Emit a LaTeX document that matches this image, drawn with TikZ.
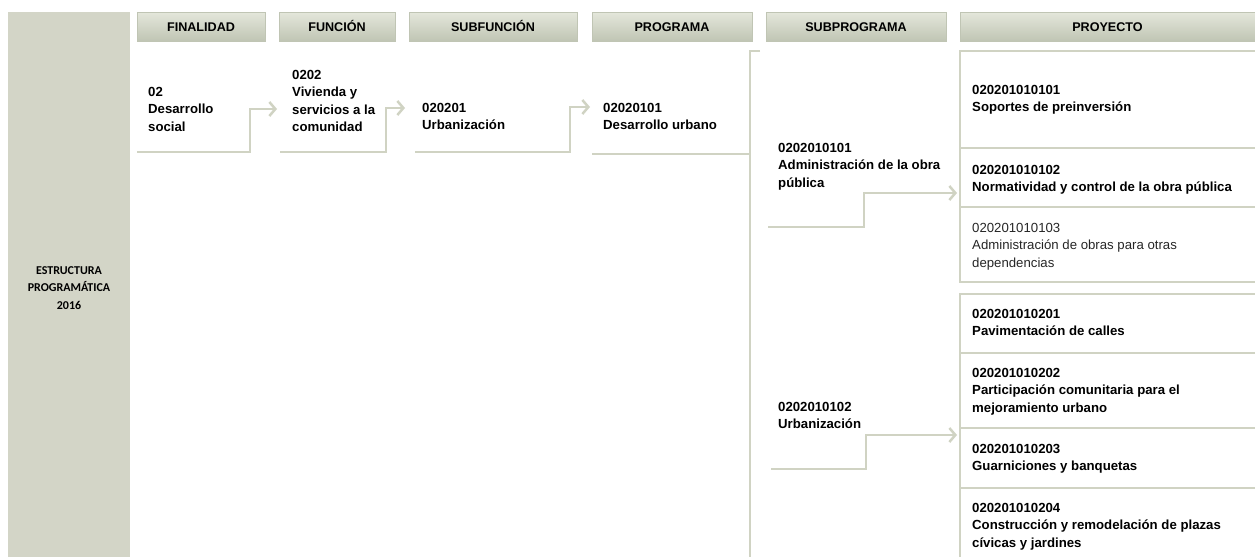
\documentclass[tikz,border=0pt]{standalone}
\usepackage{fontspec}
\setmainfont{Liberation Sans}
\newfontfamily\calfont{Carlito}
\usetikzlibrary{arrows.meta}
\definecolor{sidegray}{RGB}{211,213,199}
\definecolor{linegray}{RGB}{208,211,195}
\definecolor{hdrtop}{RGB}{228,231,219}
\definecolor{hdrbot}{RGB}{192,197,180}

\begin{document}
\begin{tikzpicture}[x=1pt,y=-1pt,
     hdr/.style={minimum height=29pt,inner sep=0pt,
       font=\fontsize{12.6}{14}\selectfont\bfseries,
       text height=9pt,text depth=0pt,
       top color=hdrtop,middle color=white,bottom color=hdrbot,
       draw=hdrbot,line width=1pt},
     cell/.style={anchor=north west,inner sep=0pt,align=left,
       font=\fontsize{13.2}{17.5}\selectfont\bfseries},
     plain/.style={cell,font=\fontsize{13.2}{17.5}\selectfont,text=black!85},
     conn/.style={draw=linegray,line width=2.5pt},
     arr/.style={conn,-{Straight Barb[length=6pt,width=14pt]}},
     sep/.style={draw=linegray,line width=1.5pt}
     ]
   \useasboundingbox (0,0) rectangle (1255,557);

   % side band
   \node[fill=sidegray,minimum width=122pt,minimum height=545pt,
         anchor=north west,inner sep=0pt] (side) at (8,12) {};
   \node[font=\calfont\fontsize{12}{17.5}\selectfont\bfseries,align=center]
         (sidetxt) at (69,288) {ESTRUCTURA\\PROGRAMÁTICA\\2016};

   % column headers: name/center x/width/text
   \foreach \name/\x/\w/\txt in {fin/201/128/FINALIDAD,
                                 fun/337/116/FUNCIÓN,
                                 sfun/493/168/SUBFUNCIÓN,
                                 prog/672/160/PROGRAMA,
                                 sprog/856/180/SUBPROGRAMA,
                                 proy/1107.5/295/PROYECTO}
   {
     \node[hdr,minimum width=\w pt] (h\name) at (\x,26.5) {\txt};
   }

   % chain of codes
   \node[cell] (fin)  at (148,87)  {02\\Desarrollo\\social};
   \node[cell] (fun)  at (292,70)  {0202\\Vivienda y\\servicios a la\\comunidad};
   \node[cell] (sfun) at (422,103) {020201\\Urbanización};
   \node[cell] (prog) at (603,103) {02020101\\Desarrollo urbano};
   \node[cell] (sp1)  at (778,143) {0202010101\\Administración de la obra\\pública};
   \node[cell] (sp2)  at (778,402) {0202010102\\Urbanización};

   % projects
   \node[cell]  (p11) at (972,85)  {020201010101\\Soportes de preinversión};
   \node[cell]  (p12) at (972,165) {020201010102\\Normatividad y control de la obra pública};
   \node[plain] (p13) at (972,223) {020201010103\\Administración de obras para otras\\dependencias};
   \node[cell]  (p21) at (972,309) {020201010201\\Pavimentación de calles};
   \node[cell]  (p22) at (972,368) {020201010202\\Participación comunitaria para el\\mejoramiento urbano};
   \node[cell]  (p23) at (972,444) {020201010203\\Guarniciones y banquetas};
   \node[cell]  (p24) at (972,503) {020201010204\\Construcción y remodelación de plazas\\cívicas y jardines};

   % project boxes
   \draw[conn] (1255,51) -- (960,51) -- (960,282) -- (1255,282);
   \draw[conn] (1255,294) -- (960,294) -- (960,557);
   \foreach \y in {148,207,353,428,488}
     \draw[sep] (960,\y) -- (1255,\y);

   % bracket of the programme
   \coordinate (progS) at (592,154);
   \coordinate (brT) at (760,51);
   \coordinate (brB) at (750,557);
   \draw[conn] (brT) -- (750,51) -- (brB);
   \draw[conn] (progS) -- (progS -| brB);

   % step arrows: start, knee, tip
   \coordinate (finS)  at (137,152); \coordinate (finK)  at (250,109); \coordinate (finA)  at (277,109);
   \coordinate (funS)  at (280,152); \coordinate (funK)  at (386,108); \coordinate (funA)  at (405,108);
   \coordinate (sfunS) at (415,152); \coordinate (sfunK) at (570,107); \coordinate (sfunA) at (590,107);
   \coordinate (sp1S)  at (768,227); \coordinate (sp1K)  at (864,193); \coordinate (sp1A)  at (957,193);
   \coordinate (sp2S)  at (771,469); \coordinate (sp2K)  at (866,435); \coordinate (sp2A)  at (957,435);
   \foreach \n in {fin,fun,sfun,sp1,sp2}
     \draw[arr] (\n S) -| (\n K) -- (\n A);
\end{tikzpicture}
\end{document}
